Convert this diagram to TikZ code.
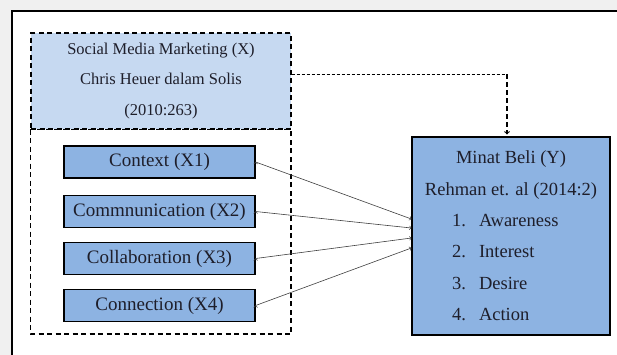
\documentclass[tikz,border=0pt]{standalone}
\usepackage{fontspec}
\setmainfont{Liberation Serif}
\usepackage{xcolor}
\usetikzlibrary{arrows}

\definecolor{paleblue}{HTML}{C6D9F1}
\definecolor{midblue}{HTML}{8DB3E2}
\definecolor{inkcol}{HTML}{1E1E2A}

\tikzset{
  varbox/.style={draw=black, line width=1.2pt, fill=midblue, text=inkcol,
    minimum width=191pt, minimum height=32pt, inner sep=0pt,
    font=\fontsize{19}{20}\selectfont},
  groupline/.style={dash pattern=on 5pt off 3.5pt, line width=1.3pt},
  link/.style={->, >=to, line width=0.6pt, draw=black!75}
}

\begin{document}
\begin{tikzpicture}[x=1pt,y=-1pt]
\useasboundingbox (0,0) rectangle (617,354);
\fill[black!6] (-5,-5) rectangle (625,360);
\node[text=black, font=\fontsize{18}{20}\selectfont] (captg) at (378,-9) {g};
\fill[white] (12,11) rectangle (625,360);
\draw[line width=1.6pt] (12,360) -- (12,11) -- (625,11);

  \node[draw, groupline, fill=paleblue, text=inkcol,
        minimum width=260pt, minimum height=96pt, align=center,
        font=\fontsize{16.5}{30.5}\selectfont]
        (smm) at (161,81) {Social Media Marketing (X)\\Chris Heuer dalam Solis\\(2010:263)};
  \draw[groupline] (smm.south west) rectangle (291,334);

  \node[varbox] (ctx) at (159.5,162)   {Context (X1)};
  \node[varbox] (com) at (159.5,211.5) {Commnunication (X2)};
  \node[varbox] (col) at (159.5,258.5) {Collaboration (X3)};
  \node[varbox] (con) at (159.5,305.5) {Connection (X4)};

  \node[draw=black, line width=1.2pt, fill=midblue, text=inkcol,
        minimum width=198pt, minimum height=198pt, align=center,
        font=\fontsize{18.5}{31.4}\selectfont]
        (minat) at (511,236) {Minat Beli (Y)\\Rehman et. al (2014:2)\\
        \makebox[118pt][l]{\makebox[27pt][l]{1.}Awareness}\\
        \makebox[118pt][l]{\makebox[27pt][l]{2.}Interest}\\
        \makebox[118pt][l]{\makebox[27pt][l]{3.}Desire}\\
        \makebox[118pt][l]{\makebox[27pt][l]{4.}Action}};

  \path[link] (ctx.east) edge ([yshift=17pt]minat.west);
  \path[link] (com.east) edge ([yshift=8pt]minat.west);
  \path[link] (col.east) edge ([yshift=-2pt]minat.west);
  \path[link] (con.east) edge ([yshift=-12pt]minat.west);

  \coordinate (bend) at (507,74);
  \draw[dash pattern=on 3pt off 2pt, line width=0.8pt] (smm.east |- bend) -- (bend);
  \draw[->, >=to, dash pattern=on 5pt off 3pt, line width=1.1pt, shorten >=2pt] (bend) -- (bend |- minat.north);
\end{tikzpicture}
\end{document}
